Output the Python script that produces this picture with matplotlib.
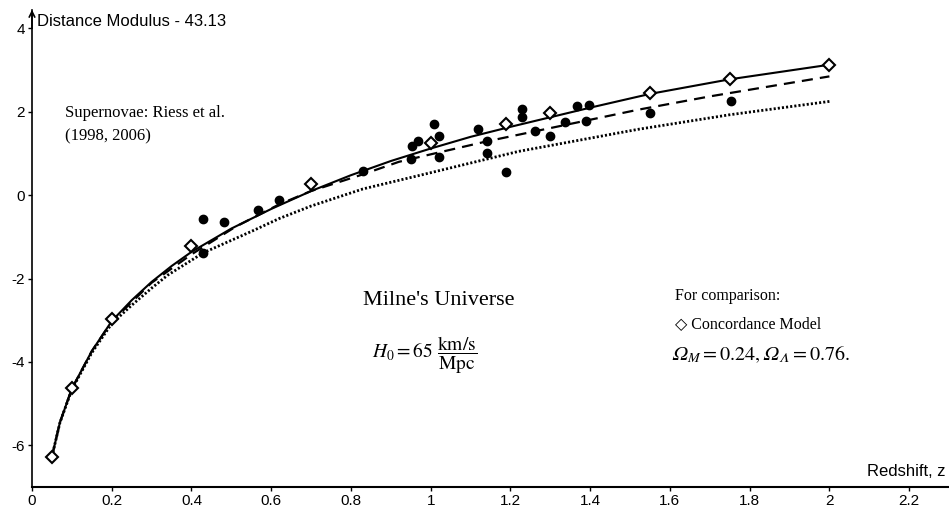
import matplotlib
matplotlib.use("Agg")
import matplotlib.pyplot as plt

# supernovae (filled dots)
sn_z = [0.429, 0.481, 0.429, 0.567, 0.619, 0.829, 0.95, 0.953, 0.969, 1.009,
        1.02, 1.02, 1.119, 1.14, 1.14, 1.188, 1.228, 1.228, 1.262, 1.30,
        1.30, 1.338, 1.367, 1.397, 1.39, 1.549, 1.754]
sn_mu = [-0.56, -0.65, -1.38, -0.36, -0.12, 0.57, 0.87, 1.19, 1.29, 1.70,
         1.43, 0.92, 1.58, 1.31, 1.01, 0.55, 2.07, 1.87, 1.53, 1.97,
         1.41, 1.75, 2.14, 2.17, 1.79, 1.97, 2.25]

# concordance model (open diamonds)
cm_z = [0.05, 0.1, 0.2, 0.4, 0.7, 1.0, 1.19, 1.3, 1.55, 1.75, 2.0]
cm_mu = [-6.27, -4.63, -2.98, -1.23, 0.27, 1.25, 1.71, 1.97, 2.45, 2.78, 3.13]

# solid curve
sol_z = [0.05, 0.07, 0.1, 0.15, 0.2, 0.25, 0.3, 0.35, 0.4, 0.5, 0.6, 0.7,
         0.8, 0.9, 1.0, 1.1, 1.2, 1.3, 1.4, 1.55, 1.75, 2.0]
sol_mu = [-6.27, -5.45, -4.64, -3.74, -3.02, -2.52, -2.08, -1.70, -1.36, -0.80,
          -0.33, 0.10, 0.48, 0.82, 1.12, 1.40, 1.64, 1.87, 2.10, 2.43, 2.78, 3.13]

# dashed curve (Milne)
mil_z = [0.05, 0.07, 0.1, 0.15, 0.2, 0.3, 0.4, 0.51, 0.62, 0.7, 0.83, 0.92, 1.0,
         1.14, 1.22, 1.39, 1.52, 1.7, 2.0]
mil_mu = [-6.27, -5.45, -4.64, -3.74, -3.03, -2.10, -1.42, -0.76, -0.22, 0.10, 0.50,
          0.80, 0.98, 1.29, 1.45, 1.79, 2.05, 2.37, 2.85]

# dotted curve
dot_z = [0.05, 0.07, 0.1, 0.15, 0.2, 0.25, 0.3, 0.34, 0.43, 0.55, 0.62, 0.7, 0.83,
         1.0, 1.22, 1.52, 1.75, 2.0]
dot_mu = [-6.27, -5.46, -4.66, -3.78, -3.08, -2.64, -2.23, -1.92, -1.38, -0.87, -0.56,
          -0.26, 0.15, 0.54, 1.05, 1.58, 1.93, 2.25]

x_ticks = [0, 0.2, 0.4, 0.6, 0.8, 1, 1.2, 1.4, 1.6, 1.8, 2, 2.2]
x_labels = ["0", "0.2", "0.4", "0.6", "0.8", "1", "1.2", "1.4", "1.6", "1.8", "2", "2.2"]
y_ticks = [-6, -4, -2, 0, 2, 4]

plt.rcParams['axes.unicode_minus'] = False
plt.rcParams['mathtext.fontset'] = 'stix'
SANS = 'Liberation Sans'
SERIF = ['Liberation Serif', 'DejaVu Sans']

fig = plt.figure(figsize=(9.49, 5.12), dpi=100)
ax = fig.add_axes([32 / 949, 25 / 512, 1 - 32 / 949, (487 - 9.7) / 512])
ax.set_xlim(0, 2.3)
ax.set_ylim(-7, 4.45)

ax.spines['top'].set_visible(False)
ax.spines['right'].set_visible(False)
ax.spines['left'].set_linewidth(1.2)
ax.spines['bottom'].set_linewidth(1.5)

ax.set_xticks(x_ticks)
ax.set_xticklabels(x_labels)
ax.set_yticks(y_ticks)
ax.tick_params(direction='out', length=3, width=1, labelsize=11, pad=2)
for lab in ax.get_xticklabels() + ax.get_yticklabels():
    lab.set_fontfamily(SANS)

# arrow on top of y axis
ax.annotate('', xy=(0, 4.45), xytext=(0, 4.0),
            arrowprops=dict(arrowstyle='->', lw=1.2, color='black',
                            mutation_scale=10, shrinkA=0, shrinkB=0),
            annotation_clip=False)

ax.plot(dot_z, dot_mu, color='black', lw=2.0, linestyle=(0, (0.75, 0.75)))
ax.plot(mil_z, mil_mu, color='black', lw=1.6, linestyle=(0, (5, 3.2)))
ax.plot(sol_z, sol_mu, color='black', lw=1.5)
ax.plot(sn_z, sn_mu, 'o', color='black', markersize=6, zorder=4)
ax.plot(cm_z, cm_mu, 'D', mfc='white', mec='black', mew=1.5, markersize=6, zorder=5)

ax.text(0.012, 4.16, 'Distance Modulus - 43.13', fontsize=12, family=SANS, va='center')
ax.text(0.083, 1.69, 'Supernovae: Riess et al.\n(1998, 2006)', fontsize=12,
        family=SERIF, va='center', linespacing=1.6)
ax.text(1.02, -2.53, "Milne's Universe", fontsize=16, family=SERIF,
        ha='center', va='center')
ax.text(0.984, -3.84, r'$H_0 = 65\ \dfrac{\mathrm{km/s}}{\mathrm{Mpc}}$', fontsize=14,
        ha='center', va='center')
ax.text(1.614, -2.43, 'For comparison:', fontsize=11.5, family=SERIF, va='center')
ax.text(1.614, -3.08, '\u25C7 Concordance Model', fontsize=11.5, family=SERIF, va='center')
ax.text(1.602, -3.82, '$\U0001D6FA_M = 0.24, \U0001D6FA_{\U0001D6EC} = 0.76.$',
        fontsize=14.5, va='center')
ax.text(2.292, -6.62, 'Redshift, z', fontsize=12, family=SANS, va='center', ha='right')

fig.savefig('out.png', dpi=100, facecolor='white')
